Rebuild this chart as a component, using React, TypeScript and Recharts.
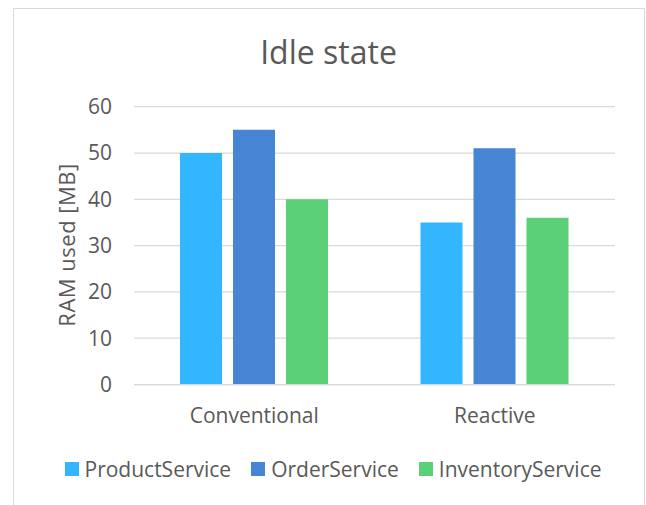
import { BarChart, Bar, XAxis, YAxis, CartesianGrid, Legend } from "recharts"

const categories = ["Conventional", "Reactive"]
const productService = [50, 35]
const orderService = [55, 51]
const inventoryService = [40, 36]
const yTicks = [0, 10, 20, 30, 40, 50, 60]

const seriesNames = ["ProductService", "OrderService", "InventoryService"]
const seriesColors = ["#33B5FF", "#4585D4", "#5BD079"]

const data = categories.map((name, i) => ({
  name,
  ProductService: productService[i],
  OrderService: orderService[i],
  InventoryService: inventoryService[i]
}))

const font = "'Open Sans', sans-serif"
const textColor = "#595959"

// legend keeps the series order instead of the library's alphabetical sort
function LegendRow() {
  return (
    <div style={{ display: "flex", justifyContent: "center", alignItems: "center", fontFamily: font, fontSize: 21, color: textColor }}>
      {seriesNames.map((name, i) => (
        <div key={name} style={{ display: "flex", alignItems: "center", marginLeft: i === 0 ? 0 : 20 }}>
          <span style={{ width: 14, height: 14, background: seriesColors[i], marginRight: 6, display: "inline-block" }} />
          <span>{name}</span>
        </div>
      ))}
    </div>
  )
}

export default function App() {
  return (
    <div style={{ position: "absolute", left: 0, top: 0, width: 646, height: 505, overflow: "hidden", background: "#fff" }}>

      <div style={{ position: "absolute", left: 13, top: 8, width: 630, height: 520, border: "1px solid #D9D9D9" }} />

      <div style={{ position: "absolute", left: 0, top: 30, width: 657, textAlign: "center", fontFamily: font, fontSize: 32, color: textColor }}>
        Idle state
      </div>

      <div style={{ position: "absolute", left: 66, top: 245, transform: "translate(-50%, -50%) rotate(-90deg)", whiteSpace: "nowrap", fontFamily: font, fontSize: 22, letterSpacing: 0.5, color: textColor }}>
        RAM used [MB]
      </div>

      <div style={{ position: "absolute", left: 0, top: 0 }}>
        <BarChart
          width={646}
          height={505}
          data={data}
          margin={{ top: 106.7, right: 31, bottom: 80.5, left: 74 }}
          barGap={11}
        >
          <CartesianGrid vertical={false} stroke="#D9D9D9" strokeWidth={1.25} />

          <XAxis
            dataKey="name"
            height={40}
            tickLine={false}
            tickSize={0}
            tickMargin={24}
            axisLine={{ stroke: "#D9D9D9", strokeWidth: 1.25 }}
            tick={{ fill: textColor, fontSize: 21, fontFamily: font }}
          />
          <YAxis
            width={60}
            domain={[0, 60]}
            ticks={yTicks}
            axisLine={false}
            tickLine={false}
            tickSize={0}
            tickMargin={22}
            tick={{ fill: textColor, fontSize: 21, fontFamily: font }}
          />

          <Legend
            verticalAlign="middle"
            wrapperStyle={{ top: 455, left: 66, width: 534 }}
            content={LegendRow}
          />

          {seriesNames.map((key, i) => (
            <Bar
              key={key}
              dataKey={key}
              name={key}
              fill={seriesColors[i]}
              barSize={42}
              isAnimationActive={false}
            />
          ))}
        </BarChart>
      </div>

    </div>
  )
}
